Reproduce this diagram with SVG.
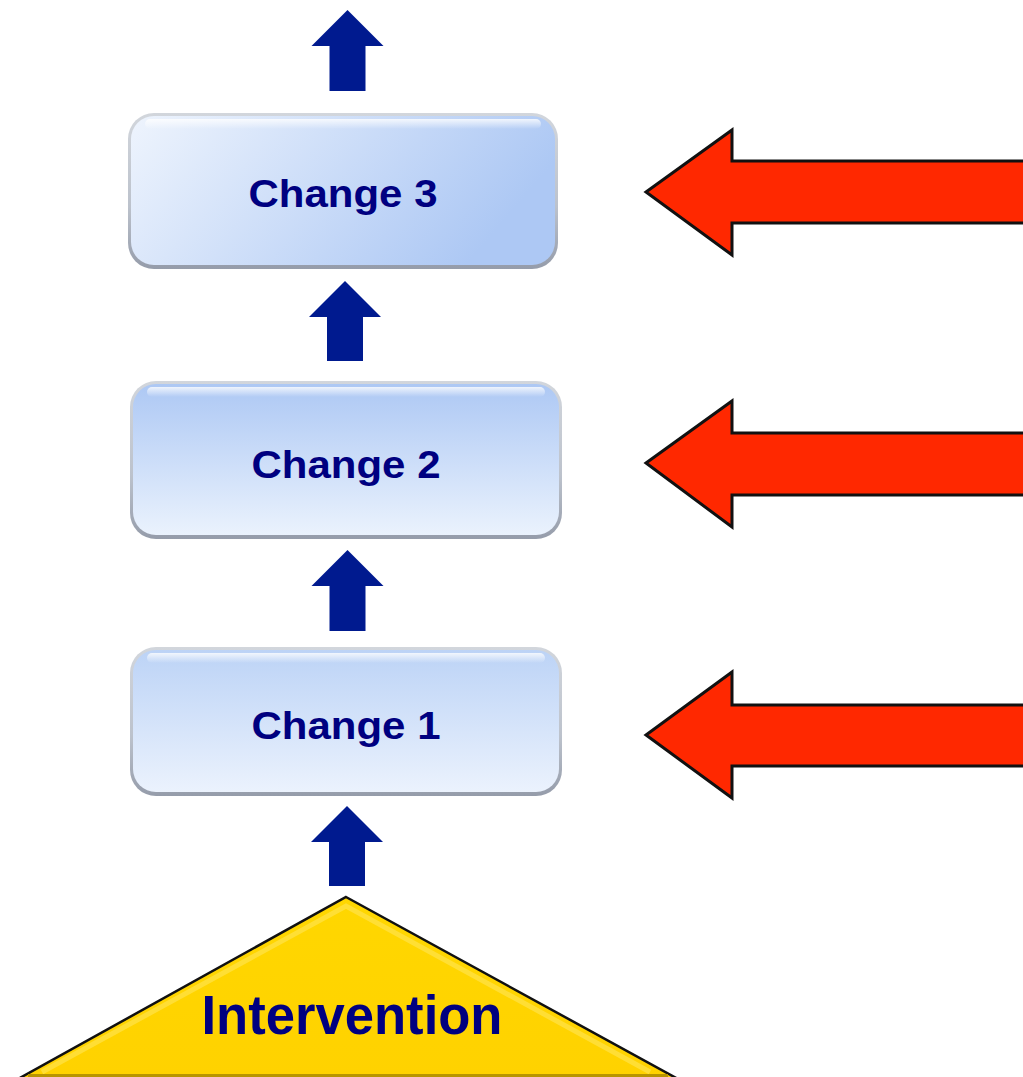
<svg xmlns="http://www.w3.org/2000/svg" width="1023" height="1077" viewBox="0 0 1023 1077">
<defs>
<linearGradient id="gH" x1="0" y1="0" x2="1" y2="0.3">
<stop offset="0" stop-color="#eef4fd"/>
<stop offset="1" stop-color="#adc8f4"/>
</linearGradient>
<linearGradient id="gV" x1="0" y1="0" x2="0" y2="1">
<stop offset="0" stop-color="#adc8f4"/>
<stop offset="1" stop-color="#eaf2fd"/>
</linearGradient>
<linearGradient id="gV1" x1="0" y1="0" x2="0" y2="1">
<stop offset="0" stop-color="#bcd3f6"/>
<stop offset="1" stop-color="#ebf2fd"/>
</linearGradient>
<linearGradient id="edge" x1="0" y1="0" x2="0" y2="1">
<stop offset="0" stop-color="#d2d6dc"/>
<stop offset="0.6" stop-color="#bcc2cc"/>
<stop offset="1" stop-color="#959caa"/>
</linearGradient>
<linearGradient id="hl" x1="0" y1="0" x2="0" y2="1">
<stop offset="0" stop-color="#ffffff" stop-opacity="0.8"/>
<stop offset="1" stop-color="#ffffff" stop-opacity="0"/>
</linearGradient>
<linearGradient id="yel" x1="0" y1="0" x2="0" y2="1">
<stop offset="0" stop-color="#ffd700"/>
<stop offset="1" stop-color="#ffd200"/>
</linearGradient>
</defs>
<style>
.lbl{font-family:"Liberation Sans",Arial,sans-serif;font-weight:bold;fill:#000080;text-anchor:middle}
.up{fill:#001a8f}
.red{fill:#ff2800;stroke:#111111;stroke-width:3;stroke-linejoin:miter}
.edge{fill:url(#edge)}
</style>

<g id="connectors">
<polygon class="up" points="347.5,10 383.5,46 365.5,46 365.5,91 329.5,91 329.5,46 311.5,46"/>
<polygon class="up" points="345,281 381,317 363,317 363,361 327,361 327,317 309,317"/>
<polygon class="up" points="347.5,550 383.5,586 365.5,586 365.5,631 329.5,631 329.5,586 311.5,586"/>
<polygon class="up" points="347,806 383,842 365,842 365,886 329,886 329,842 311,842"/>
</g>

<g id="change3">
<rect x="128" y="113" width="430" height="156" rx="26" class="edge"/>
<rect x="131" y="116" width="424" height="149" rx="23" fill="url(#gH)"/>
<rect x="145" y="119" width="396" height="10" rx="5" fill="url(#hl)"/>
<text class="lbl" x="343" y="207" font-size="39" textLength="189" lengthAdjust="spacingAndGlyphs">Change 3</text>
</g>

<g id="change2">
<rect x="130" y="381" width="432" height="158" rx="26" class="edge"/>
<rect x="133" y="384" width="426" height="151" rx="23" fill="url(#gV)"/>
<rect x="147" y="387" width="398" height="10" rx="5" fill="url(#hl)"/>
<text class="lbl" x="346" y="478" font-size="39" textLength="189" lengthAdjust="spacingAndGlyphs">Change 2</text>
</g>

<g id="change1">
<rect x="130" y="647" width="432" height="149" rx="26" class="edge"/>
<rect x="133" y="650" width="426" height="142" rx="23" fill="url(#gV1)"/>
<rect x="147" y="653" width="398" height="10" rx="5" fill="url(#hl)"/>
<text class="lbl" x="346" y="739" font-size="39" textLength="189" lengthAdjust="spacingAndGlyphs">Change 1</text>
</g>

<g id="influence3">
<polygon class="red" points="646,192 732,130 732,161 1030,161 1030,223 732,223 732,255"/>
</g>
<g id="influence2">
<polygon class="red" points="646,463 732,401 732,433 1030,433 1030,495 732,495 732,527"/>
</g>
<g id="influence1">
<polygon class="red" points="646,735 732,672 732,705 1030,705 1030,766 732,766 732,798"/>
</g>

<g id="intervention">
<polygon points="346,897 678,1079 18,1079" fill="url(#yel)" stroke="#111111" stroke-width="2.5"/>
<polyline points="42,1072 346,906 650,1072" fill="none" stroke="#ffe24a" stroke-width="5" stroke-opacity="0.7"/>
<line x1="28" y1="1075.5" x2="668" y2="1075.5" stroke="#b89500" stroke-width="3"/>
<text class="lbl" x="352" y="1034" font-size="55" textLength="301" lengthAdjust="spacingAndGlyphs">Intervention</text>
</g>
</svg>
